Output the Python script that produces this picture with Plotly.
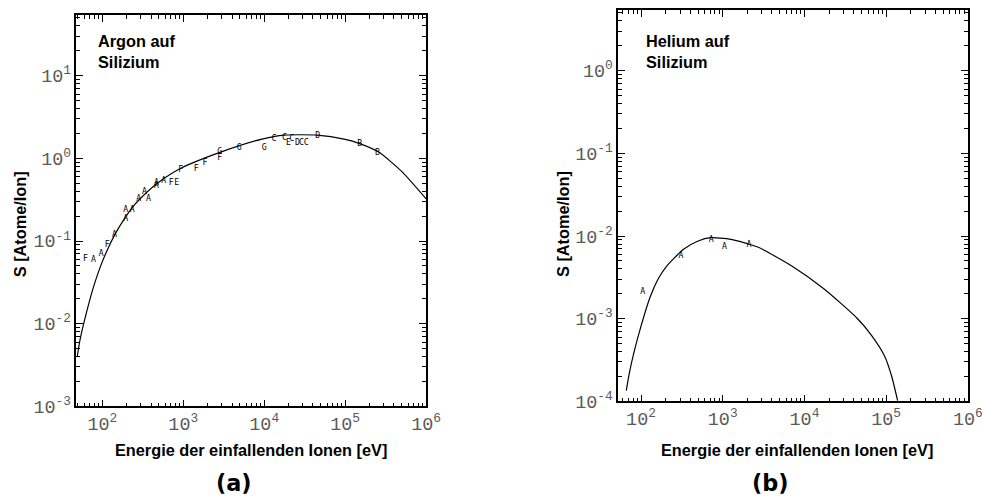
import plotly.graph_objects as go

# ---------------- data ----------------
# (a) Argon on silicon: fitted curve
ar_curve_energy = [49, 52.5, 58.9, 67.6, 77.6, 95.5, 115, 145, 182, 251, 355, 479, 933,
                   2950, 9120, 17800, 44700, 100000, 151000, 257000, 501000, 1000000]
ar_curve_yield = [0.00398, 0.00603, 0.0100, 0.0170, 0.0275, 0.0501, 0.0776, 0.123,
                  0.178, 0.275, 0.389, 0.501, 0.759, 1.20, 1.70, 1.91, 1.91, 1.70,
                  1.51, 1.20, 0.692, 0.324]

# (a) Argon on silicon: measured points (letters mark the data sets)
ar_pts_energy = [62, 78, 97, 115, 141, 195, 195, 234, 282, 331, 372, 468, 468, 575,
                 708, 832, 933, 1450, 1860, 2820, 2820, 4900, 10000, 13200, 17800,
                 20000, 21900, 25700, 28800, 33100, 45700, 151000, 251000]
ar_pts_yield = [0.060, 0.059, 0.069, 0.089, 0.12, 0.186, 0.235, 0.235, 0.32, 0.39,
                0.32, 0.46, 0.50, 0.54, 0.51, 0.51, 0.72, 0.74, 0.89, 1.00, 1.20,
                1.32, 1.32, 1.70, 1.78, 1.55, 1.74, 1.55, 1.55, 1.55, 1.86, 1.51, 1.17]
ar_pts_label = ["F", "A", "A", "F", "A", "A", "A", "A", "A", "A", "A", "A", "A", "A",
                "F", "E", "F", "F", "F", "F", "G", "G", "G", "C", "C", "E", "C", "D",
                "C", "C", "D", "B", "B"]

# (b) Helium on silicon: fitted curve
he_curve_energy = [66, 72, 81, 98, 129, 162, 204, 331, 501, 708, 1260, 2630, 6920,
                   17400, 44700, 66100, 95500, 117000, 138000]
he_curve_yield = [0.000135, 0.000219, 0.000372, 0.000759, 0.00182, 0.00302, 0.00427,
                  0.00692, 0.00871, 0.00955, 0.00912, 0.00741, 0.00437, 0.00229,
                  0.00100, 0.00063, 0.000355, 0.000200, 0.000102]

# (b) Helium on silicon: measured points
he_pts_energy = [105, 309, 724, 1050, 2090]
he_pts_yield = [0.0021, 0.0058, 0.0089, 0.0074, 0.0079]
he_pts_label = ["A", "A", "A", "A", "A"]

ar_y_ticks = [1e-3, 1e-2, 1e-1, 1e0, 1e1]
ar_y_ticktext = ["10<sup>-3</sup>", "10<sup>-2</sup>", "10<sup>-1</sup>",
                 "10<sup>0</sup>", "10<sup>1</sup>"]
he_y_ticks = [1e-4, 1e-3, 1e-2, 1e-1, 1e0]
he_y_ticktext = ["10<sup>-4</sup>", "10<sup>-3</sup>", "10<sup>-2</sup>",
                 "10<sup>-1</sup>", "10<sup>0</sup>"]
x_ticks = [1e2, 1e3, 1e4, 1e5, 1e6]
x_ticktext = ["10<sup>2</sup>", "10<sup>3</sup>", "10<sup>4</sup>",
              "10<sup>5</sup>", "10<sup>6</sup>"]

panel_texts = ["Argon auf<br>Silizium", "Helium auf<br>Silizium"]
panel_letters = ["(a)", "(b)"]
x_title = "Energie der einfallenden Ionen [eV]"
y_title = "S [Atome/Ion]"

# ---------------- figure ----------------
REF_W, REF_H = 982, 500
S = 0.98  # the page is photographed slightly reduced; compensate
W, H = round(REF_W / S), round(REF_H / S)


def fs(v):
    return round(v / S, 1)


fig = go.Figure()

line_style = dict(color="black", width=1.2)
txt_font = dict(family="DejaVu Sans Mono", size=fs(8), color="black")

fig.add_trace(go.Scatter(x=ar_curve_energy, y=ar_curve_yield, mode="lines",
                         line=dict(shape="spline", smoothing=0.6, **line_style),
                         xaxis="x", yaxis="y", showlegend=False))
fig.add_trace(go.Scatter(x=ar_pts_energy, y=ar_pts_yield, mode="text",
                         text=ar_pts_label, textfont=txt_font,
                         xaxis="x", yaxis="y", showlegend=False))
fig.add_trace(go.Scatter(x=he_curve_energy, y=he_curve_yield, mode="lines",
                         line=dict(shape="spline", smoothing=0.6, **line_style),
                         xaxis="x2", yaxis="y2", showlegend=False))
fig.add_trace(go.Scatter(x=he_pts_energy, y=he_pts_yield, mode="text",
                         text=he_pts_label, textfont=txt_font,
                         xaxis="x2", yaxis="y2", showlegend=False))


def minor_vals(lo, hi):
    vals = []
    for e in range(lo, hi):
        for m in range(2, 10):
            vals.append(m * 10.0 ** e)
    return vals


def axis_style(rng, domain, anchor, tv, tt, mlo, mhi):
    return dict(
        type="log", range=rng, domain=domain, anchor=anchor,
        tickmode="array", tickvals=tv, ticktext=tt,
        showline=True, linecolor="black", linewidth=1.5, mirror="allticks",
        ticks="inside", ticklen=7, tickwidth=1, tickcolor="black",
        minor=dict(tickmode="array", tickvals=minor_vals(mlo, mhi),
                   ticks="inside", ticklen=4, tickwidth=1, tickcolor="black",
                   showgrid=False),
        showgrid=False, zeroline=False,
        tickfont=dict(family="Liberation Mono", size=fs(18), color="#5a5a5a"),
    )


def px_x(v):
    return v / REF_W


def px_y(v):
    return 1 - v / REF_H


fig.update_layout(
    width=W, height=H,
    margin=dict(l=0, r=0, t=0, b=0),
    paper_bgcolor="white", plot_bgcolor="white",
    xaxis=axis_style([1.68, 6.0], [px_x(76), px_x(424)], "y",
                     x_ticks, x_ticktext, 1, 6),
    yaxis=axis_style([-3, 1.735], [px_y(408), px_y(15)], "x",
                     ar_y_ticks, ar_y_ticktext, -3, 2),
    xaxis2=axis_style([1.72, 6.0], [px_x(615), px_x(963)], "y2",
                      x_ticks, x_ticktext, 1, 6),
    yaxis2=axis_style([-4, 0.735], [px_y(403), px_y(10)], "x2",
                      he_y_ticks, he_y_ticktext, -4, 1),
)

bold = "Liberation Sans"
ann = []
for xp, txt in [(96, panel_texts[0]), (641, panel_texts[1])]:
    ann.append(dict(x=px_x(xp), y=px_y(30), xref="paper", yref="paper",
                    text="<b>" + txt + "</b>", showarrow=False, xanchor="left",
                    yanchor="top", align="left",
                    font=dict(family=bold, size=fs(16), color="black")))
for xc in [250, 793]:
    ann.append(dict(x=px_x(xc), y=px_y(452), xref="paper", yref="paper",
                    text="<b>" + x_title + "</b>", showarrow=False,
                    xanchor="center", yanchor="middle",
                    font=dict(family=bold, size=fs(16), color="black")))
for xc in [20, 560]:
    ann.append(dict(x=px_x(xc), y=px_y(225), xref="paper", yref="paper",
                    text="<b>" + y_title + "</b>", showarrow=False, textangle=-90,
                    xanchor="center", yanchor="middle",
                    font=dict(family=bold, size=fs(16), color="black")))
for xc, lab in [(233, panel_letters[0]), (767, panel_letters[1])]:
    ann.append(dict(x=px_x(xc), y=px_y(485), xref="paper", yref="paper",
                    text="<b>" + lab + "</b>", showarrow=False,
                    xanchor="center", yanchor="middle",
                    font=dict(family="DejaVu Sans", size=fs(22), color="black")))
fig.update_layout(annotations=ann)

fig.write_html("out.html")
